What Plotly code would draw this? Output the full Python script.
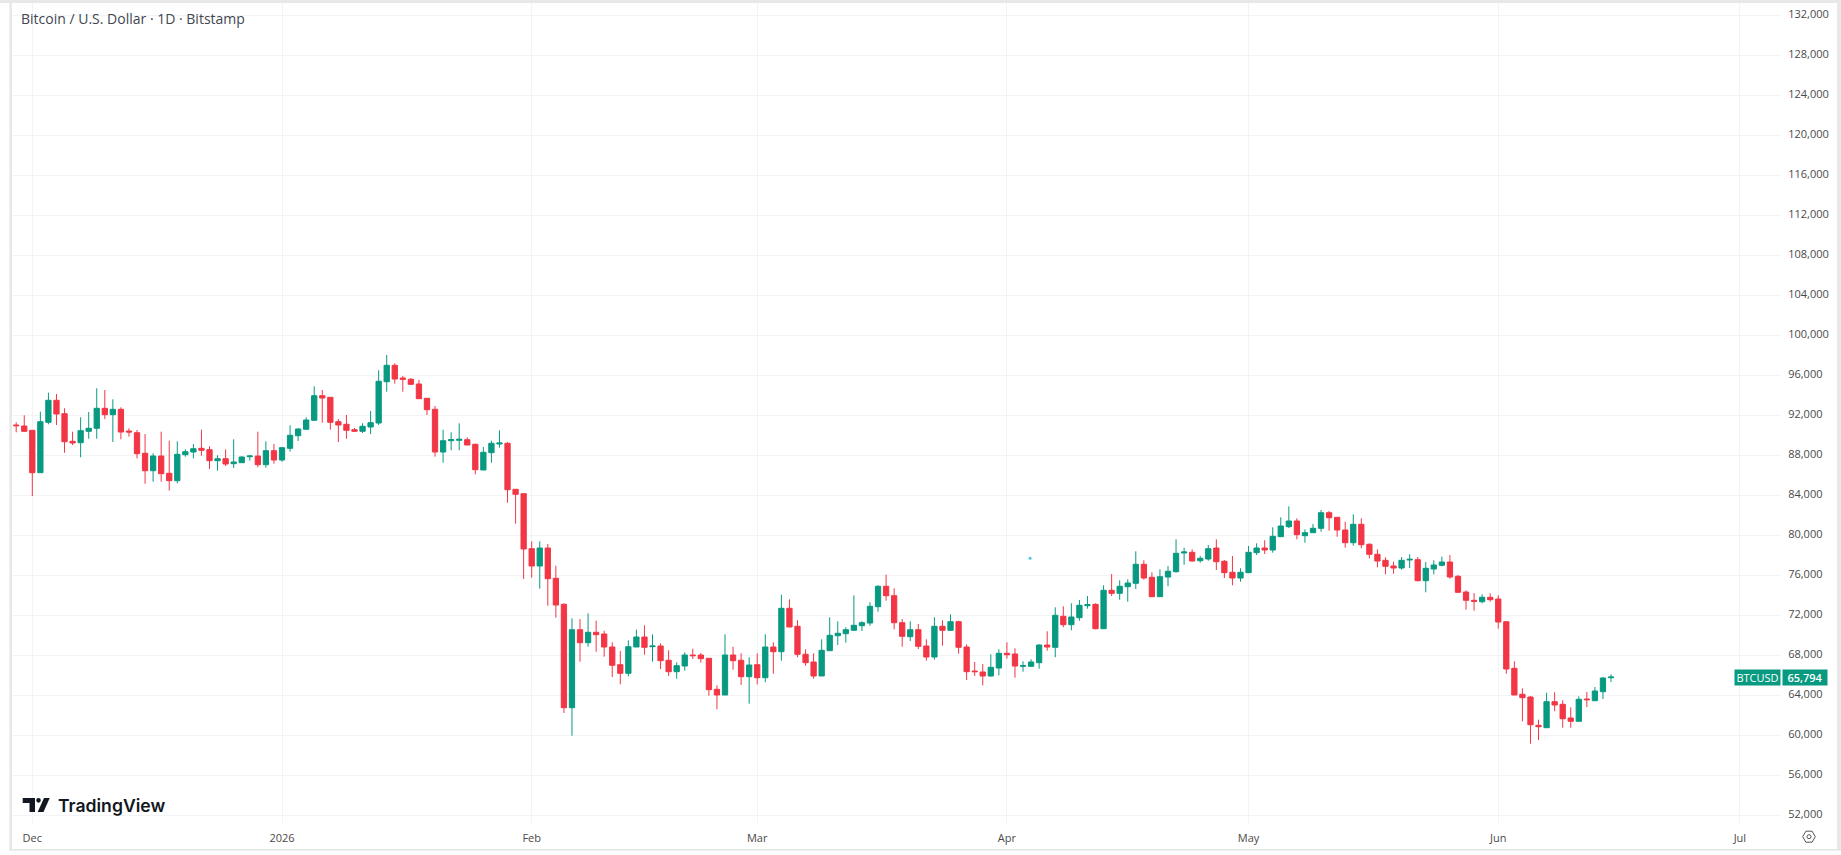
import pandas as pd
import plotly.graph_objects as go

# Daily BTC/USD candles, 29 Nov 2025 to 15 Jun 2026
opens = [91000, 90900,
    90470, 86230, 91270, 93470, 92130, 89370, 89230, 90370, 90670, 92670, 92030, 92570, 90400, 90230, 88170, 86430, 87900, 86170, 85430, 88030, 88300, 88670, 88530, 87430, 87630, 87130, 87230, 87830, 87900, 87030, 88430,
    87500, 88670, 89930, 90570, 91470, 93930, 93770, 91330, 91070, 90530, 90370, 90800, 91200, 95330, 96970, 95700, 95570, 95100, 93670, 92570, 88300, 89430, 89470, 89530, 89070, 86500, 88230, 89100, 89170, 84570, 84130,
    78630, 76900, 78700, 75670, 73070, 62730, 70530, 69230, 70270, 70100, 68800, 67030, 66170, 68800, 69800, 68830, 68900, 67470, 66330, 66900, 68000, 68000, 67670, 64570, 64000, 68000, 67470, 65830,
    67030, 65730, 68800, 68330, 72670, 70870, 68070, 67300, 65900, 68430, 69930, 70130, 70470, 70930, 71200, 72830, 74870, 73930, 71230, 69830, 70530, 68900, 67800, 70870, 70470, 71330, 68800, 66400, 66300, 65900, 66700,
    68170, 68100, 66870, 66870, 67230, 69000, 68770, 71870, 71030, 71730, 72930, 73070, 70630, 74470, 74170, 74830, 75170, 77070, 75770, 73830, 75800, 76330, 78200, 78270, 77430, 77600, 78700, 77370, 76270, 75700,
    76230, 78230, 78700, 78500, 79830, 80830, 81400, 79930, 80230, 80670, 82230, 81770, 80500, 79230, 81070, 79070, 78070, 77470, 76900, 76700, 77500, 77530, 75430, 76600, 76970, 77300, 75870, 74300, 73470, 73330, 73770,
    73600, 71330, 66670, 64070, 63800, 60970, 60730, 63330, 63070, 61700, 61370, 63600, 63430, 64330, 65730]
highs = [91270, 91970,
    90470, 92330, 94230, 94100, 92670, 90330, 91770, 92300, 94670, 94500, 93570, 92770, 90670, 90500, 90100, 88170, 90330, 89430, 89370, 88570, 89100, 90530, 88870, 87970, 88570, 89570, 87870, 87970, 90330, 89370, 89100,
    88800, 90970, 90670, 91770, 94870, 94500, 93770, 91600, 92000, 90700, 91170, 92400, 96470, 98000, 97170, 95900, 95700, 95500, 93670, 92900, 90530, 90270, 91170, 89770, 89130, 88800, 89430, 90470, 89300, 84570, 84130,
    79370, 79370, 79100, 76930, 73170, 71670, 71600, 72170, 71430, 70430, 69270, 68400, 69470, 70530, 70970, 70070, 69170, 68470, 67270, 68270, 68630, 68200, 67670, 64970, 70070, 68830, 68170, 67770,
    68170, 70070, 69270, 74030, 73570, 71470, 68570, 68170, 69570, 71770, 71370, 70770, 73970, 71370, 73270, 74970, 76030, 74670, 71600, 71370, 71100, 69570, 71770, 71470, 72070, 71430, 69070, 67300, 67100, 68070, 68570,
    69270, 68670, 67370, 67570, 69070, 70370, 72770, 72870, 73170, 73500, 73900, 73170, 74970, 76100, 75470, 75570, 78370, 77470, 76270, 76570, 76900, 79570, 78730, 78570, 77900, 79000, 79570, 77500, 77900, 76670,
    78900, 79170, 79470, 80770, 81770, 82870, 81670, 80570, 81100, 82500, 82400, 81770, 81330, 82070, 81670, 79170, 78570, 77770, 77330, 77800, 78070, 77800, 77300, 77470, 77830, 78000, 76000, 74470, 74200, 74070, 74170,
    73970, 71330, 67370, 64670, 63870, 61530, 64230, 64270, 63470, 62770, 63870, 64300, 64800, 65800, 66070]
lows = [90270, 90300,
    83900, 86230, 91070, 91000, 88230, 89000, 87770, 89630, 89630, 91600, 89300, 89570, 89830, 87670, 85130, 85330, 85330, 84430, 85170, 87830, 87670, 87930, 86600, 86430, 86900, 86700, 87230, 87430, 86770, 86730, 87130,
    87330, 88330, 89400, 90570, 91470, 91230, 90530, 89300, 89630, 90330, 90200, 90100, 91000, 94330, 95130, 94330, 95000, 93600, 92000, 87830, 87230, 88470, 88470, 89000, 86070, 86500, 87230, 88730, 83230, 81130, 75600,
    75730, 74630, 72930, 71730, 62200, 59930, 67330, 68830, 68330, 67830, 65800, 65070, 65870, 68800, 68030, 67330, 66600, 65900, 65630, 66430, 67600, 67230, 63930, 62570, 64000, 66530, 65000, 63130,
    65070, 65270, 66130, 67430, 70800, 67770, 66930, 65630, 65900, 68430, 69000, 69230, 70470, 70400, 70930, 72330, 73430, 70570, 68830, 69400, 68600, 67430, 67530, 68930, 70400, 68130, 65500, 65900, 64970, 65830, 65970,
    67630, 65730, 66330, 66800, 66630, 68430, 67770, 70770, 70470, 71430, 72630, 70570, 70630, 73900, 73530, 73330, 74600, 75530, 73800, 73830, 74870, 76230, 77030, 77330, 77230, 77430, 76500, 75700, 74970, 75330,
    76230, 78000, 78100, 78230, 79830, 80700, 79570, 79230, 80230, 80330, 80430, 79830, 78730, 78930, 78670, 77670, 76770, 76070, 76130, 76530, 76700, 75370, 74270, 76070, 76870, 75630, 74200, 72530, 72430, 73170, 73330,
    70630, 66130, 64000, 61370, 59130, 59500, 60730, 62370, 60730, 60730, 61370, 62800, 63430, 63600, 65300]
closes = [90930, 90370,
    86230, 91330, 93470, 92100, 89330, 89200, 90430, 90670, 92670, 92030, 92570, 90300, 90300, 88130, 86430, 87900, 86130, 85430, 88070, 88330, 88630, 88470, 87430, 87630, 87100, 87300, 87800, 87900, 87030, 88430, 87500,
    88730, 89970, 90600, 91500, 93930, 93700, 91270, 91000, 90470, 90370, 90870, 91230, 95370, 96970, 95600, 95570, 95070, 93630, 92530, 88300, 89430, 89530, 89570, 89000, 86530, 88270, 89170, 89200, 84530, 84070, 78600,
    76900, 78700, 75630, 73000, 62730, 70530, 69230, 70270, 70030, 68800, 66970, 66170, 68830, 69800, 68770, 68900, 67430, 66330, 66930, 68000, 67930, 67630, 64530, 64000, 68000, 67430, 65830, 67000,
    65730, 68800, 68330, 72670, 70800, 68070, 67230, 65900, 68470, 69970, 70170, 70530, 70970, 71230, 72870, 74870, 73930, 71230, 69870, 70530, 68870, 67800, 70870, 70470, 71330, 68770, 66330, 66330, 65900, 66770, 68170,
    68030, 66900, 66930, 67300, 69000, 68800, 71970, 71030, 71800, 72970, 73030, 70630, 74470, 74170, 74870, 75200, 77070, 75700, 73830, 75830, 76370, 78170, 78300, 77400, 77670, 78630, 77330, 76230, 75700, 76270,
    78270, 78700, 78500, 79870, 80900, 81400, 80030, 80230, 80670, 82230, 81730, 80500, 79230, 81070, 79030, 78070, 77400, 76870, 76700, 77470, 77570, 75430, 76670, 77000, 77300, 75800, 74270, 73470, 73370, 73770, 73530,
    71300, 66600, 64000, 63730, 61030, 60830, 63330, 63000, 61630, 61370, 63570, 63530, 64400, 65700, 65794]
assert len(opens) == len(highs) == len(lows) == len(closes) == 199
dates = pd.date_range("2025-11-29", periods=len(opens), freq="D")

month_ticks = ["2025-12-01", "2026-01-01", "2026-02-01", "2026-03-01", "2026-04-01", "2026-05-01", "2026-06-01", "2026-07-01"]
month_labels = ["Dec", "2026", "Feb", "Mar", "Apr", "May", "Jun", "Jul"]
dot_date = ["2026-04-03 21:00"]
dot_price = [77670]

UP = "#089981"
DOWN = "#F23645"
GRID = "#F2F3F5"
TEXT = "#4A4A4A"
FRAME = "#E8E8E8"
FONT = "Open Sans"

W, H = 1841, 855
LEFT, RIGHT, TOP, BOTTOM = 12, 1781, 3, 823


def fx(px):
    return (px - LEFT) / (RIGHT - LEFT)


def fy(py):
    return (BOTTOM - py) / (BOTTOM - TOP)


def box(x0, y0, x1, y1, color):
    return dict(type="rect", xref="paper", yref="paper", x0=fx(x0), x1=fx(x1), y0=fy(y0), y1=fy(y1),
                fillcolor=color, line_width=0, layer="above")


def polygon(points, color):
    d = "M" + " L".join(f"{fx(a):.6f},{fy(b):.6f}" for a, b in points) + " Z"
    return dict(type="path", xref="paper", yref="paper", path=d, fillcolor=color, line_width=0, layer="above")


shapes = [
    # window frame around the pane
    box(0, 0, W, 3, FRAME),
    box(9.3, 0, 12, 849, FRAME),
    box(1837, 0, W, 849, FRAME),
    box(9.3, 849, W, 850.5, "#E4E4E4"),
    # logo mark
    polygon([(22.7, 798), (35, 798), (35, 812), (29.5, 812), (29.5, 803), (22.7, 803)], "#131722"),
    dict(type="circle", xref="paper", yref="paper", x0=fx(36.2), x1=fx(40.8), y0=fy(798), y1=fy(802.7),
         fillcolor="#131722", line_width=0, layer="above"),
    polygon([(44, 798), (49.7, 798), (43.5, 812), (37.7, 812)], "#131722"),
    # settings button
    dict(type="path", xref="paper", yref="paper",
         path="M" + " L".join(f"{fx(a):.6f},{fy(b):.6f}" for a, b in
                              [(1802.7, 836.7), (1805.9, 831.2), (1812.1, 831.2), (1815.3, 836.7), (1812.1, 842.2), (1805.9, 842.2)]) + " Z",
         line=dict(color="#555555", width=1), layer="above"),
    dict(type="circle", xref="paper", yref="paper", x0=fx(1807), x1=fx(1811), y0=fy(834.7), y1=fy(838.7),
         line=dict(color="#555555", width=1), layer="above"),
]

fig = go.Figure()
fig.add_trace(go.Candlestick(
    x=dates, open=opens, high=highs, low=lows, close=closes,
    whiskerwidth=0,
    increasing=dict(line=dict(color=UP, width=1), fillcolor=UP),
    decreasing=dict(line=dict(color=DOWN, width=1), fillcolor=DOWN),
    hoverinfo="skip", showlegend=False,
))
fig.add_trace(go.Scatter(
    x=dot_date, y=dot_price, mode="markers",
    marker=dict(size=3, color="#45C8DC"), hoverinfo="skip", showlegend=False,
))

annotations = [
    dict(text="Bitcoin / U.S. Dollar · 1D · Bitstamp", xref="paper", yref="paper",
         x=fx(19), y=fy(18), xanchor="left", yanchor="middle", showarrow=False,
         font=dict(family=FONT, size=14, color="#42464F")),
    dict(text="TradingView", xref="paper", yref="paper",
         x=fx(55.6), y=fy(805), xanchor="left", yanchor="middle", showarrow=False,
         font=dict(family="Inter", size=17.6, color="#131722", weight=600)),
    dict(text="BTCUSD", xref="paper", yref="y", x=1.0, y=closes[-1], xanchor="right", yanchor="middle",
         showarrow=False, width=45, height=15, bgcolor=UP, borderpad=0,
         font=dict(family=FONT, size=11, color="white")),
    dict(text=f"{closes[-1]:,}", xref="paper", yref="y", x=1.0, y=closes[-1], xanchor="left", yanchor="middle",
         xshift=1.3, showarrow=False, width=44, height=15, bgcolor=UP, borderpad=0,
         font=dict(family=FONT, size=11, color="white", weight=600)),
]

fig.update_layout(
    width=W, height=H,
    margin=dict(l=LEFT, r=W - RIGHT, t=TOP, b=H - BOTTOM, pad=0, autoexpand=False),
    paper_bgcolor="white", plot_bgcolor="white",
    shapes=shapes, annotations=annotations, showlegend=False, dragmode=False,
    # candle body width is governed by the box gaps
    boxgap=0.2, boxgroupgap=0.18,
    xaxis=dict(
        type="date", range=["2025-11-28 11:30", "2026-07-06 02:30"],
        rangeslider=dict(visible=False),
        tickmode="array", tickvals=month_ticks, ticktext=month_labels,
        showgrid=True, gridcolor=GRID, gridwidth=1,
        zeroline=False, showline=False,
        ticks="outside", ticklen=5, tickcolor="rgba(0,0,0,0)",
        tickfont=dict(family=FONT, size=11, color=TEXT),
    ),
    yaxis=dict(
        side="right", range=[51200, 133200],
        tick0=0, dtick=4000, tickformat=",d",
        showgrid=True, gridcolor=GRID, gridwidth=1,
        zeroline=False, showline=False,
        ticks="outside", ticklen=4, tickcolor="rgba(0,0,0,0)", ticklabelshift=-1,
        tickfont=dict(family=FONT, size=11, color=TEXT),
    ),
)

fig.write_html("out.html", config=dict(displayModeBar=False, staticPlot=True))
